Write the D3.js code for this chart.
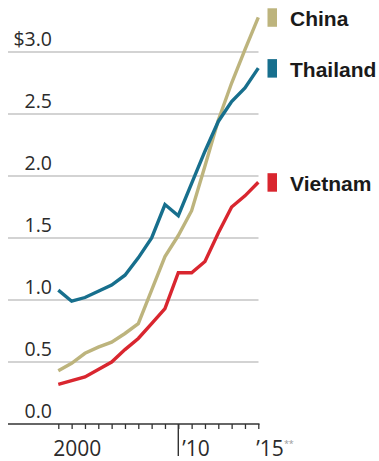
<!DOCTYPE html>
<html>
<head>
<meta charset="utf-8">
<script src="https://cdn.jsdelivr.net/npm/d3@7"></script>
<style>
  html, body { margin: 0; padding: 0; background: #fff; }
  svg { display: block; }
</style>
</head>
<body>
<svg id="chart" width="379" height="461"></svg>
<script>
// Hourly wages, US dollars
const years = d3.range(2000, 2016);
const china    = [0.43, 0.49, 0.57, 0.62, 0.66, 0.73, 0.81, 1.08, 1.35, 1.52, 1.72, 2.08, 2.45, 2.75, 3.02, 3.28];
const thailand = [1.08, 0.99, 1.02, 1.07, 1.12, 1.20, 1.34, 1.50, 1.77, 1.68, 1.94, 2.20, 2.44, 2.60, 2.71, 2.87];
const vietnam  = [0.32, 0.35, 0.38, 0.44, 0.50, 0.60, 0.69, 0.81, 0.93, 1.22, 1.22, 1.31, 1.54, 1.75, 1.84, 1.95];

const seriesNames = ["China", "Thailand", "Vietnam"];
const seriesValues = [china, thailand, vietnam];
const seriesColors = ["#bdb47d", "#176f8d", "#d9262f"];

const yTickValues = [0, 0.5, 1.0, 1.5, 2.0, 2.5, 3.0];
const yTickLabels = ["0.0", "0.5", "1.0", "1.5", "2.0", "2.5", "$3.0"];
const xLabelYears = [2000, 2010, 2015];
const xLabelText = ["2000", "\u201910", "\u201915"];
const dividerYear = 2009;

const svg = d3.select("#chart");

const x = d3.scaleLinear().domain([2000, 2015]).range([58.3, 258.3]);
const y = d3.scaleLinear().domain([0, 3]).range([424, 52]);

const gridLeft = 8, gridRight = 258.5;

// horizontal gridlines
svg.append("g")
  .selectAll("line")
  .data(yTickValues.filter(v => v > 0))
  .join("line")
  .attr("x1", gridLeft).attr("x2", gridRight)
  .attr("y1", d => y(d)).attr("y2", d => y(d))
  .attr("stroke", "#c4c4c4")
  .attr("stroke-width", 1.3);

// value labels sit above their gridlines
svg.append("g")
  .selectAll("text")
  .data(yTickValues)
  .join("text")
  .attr("x", 52)
  .attr("y", d => y(d) - 6.5)
  .attr("text-anchor", "end")
  .attr("font-family", "'Open Sans', sans-serif")
  .attr("font-size", 19.5)
  .attr("fill", "#2b2b2b")
  .text((d, i) => yTickLabels[i]);

// baseline axis with yearly ticks
const xAxis = d3.axisBottom(x)
  .tickValues(years)
  .tickSize(5)
  .tickFormat("");
const axisG = svg.append("g")
  .attr("transform", `translate(0,${y(0)})`)
  .call(xAxis);
axisG.select(".domain").remove();
axisG.selectAll(".tick line").attr("stroke", "#333").attr("stroke-width", 1.3);
axisG.append("line")
  .attr("x1", gridLeft).attr("x2", gridRight + 1)
  .attr("y1", 0).attr("y2", 0)
  .attr("stroke", "#333").attr("stroke-width", 1.5);
// long divider tick between the decades
axisG.append("line")
  .attr("x1", x(dividerYear)).attr("x2", x(dividerYear))
  .attr("y1", 0).attr("y2", 32)
  .attr("stroke", "#333").attr("stroke-width", 1.4);

// year labels
const xl = svg.append("g")
  .attr("font-family", "'Open Sans', sans-serif")
  .attr("font-size", 21)
  .attr("fill", "#2b2b2b");
xl.append("text").attr("x", x(xLabelYears[0]) - 5).attr("y", 456).text(xLabelText[0]);
xl.append("text").attr("x", x(dividerYear) + 4).attr("y", 456).text(xLabelText[1]);
const t15 = xl.append("text").attr("x", x(xLabelYears[2]) - 2).attr("y", 456);
t15.append("tspan").text(xLabelText[2]);
t15.append("tspan").attr("font-size", 9).attr("fill", "#999").attr("dy", -9).text("**");

// series lines
const line = d3.line()
  .x((d, i) => x(years[i]))
  .y(d => y(d));

svg.append("g")
  .selectAll("path")
  .data(seriesValues)
  .join("path")
  .attr("d", d => line(d))
  .attr("fill", "none")
  .attr("stroke", (d, i) => seriesColors[i])
  .attr("stroke-width", 3.4)
  .attr("stroke-linejoin", "miter")
  .attr("stroke-miterlimit", 2);

// labels at line ends
const legend = svg.append("g")
  .selectAll("g")
  .data(seriesNames)
  .join("g")
  .attr("transform", (d, i) => `translate(0,${y(seriesValues[i][seriesValues[i].length - 1])})`);
legend.append("rect")
  .attr("x", 267.5).attr("y", -9)
  .attr("width", 9.5).attr("height", 18.5)
  .attr("fill", (d, i) => seriesColors[i]);
legend.append("text")
  .attr("x", 290).attr("y", 8.5)
  .attr("font-family", "'Liberation Sans', Arial, sans-serif")
  .attr("font-weight", "bold")
  .attr("font-size", 21)
  .attr("fill", "#1a1a1a")
  .text(d => d);
</script>
</body>
</html>
